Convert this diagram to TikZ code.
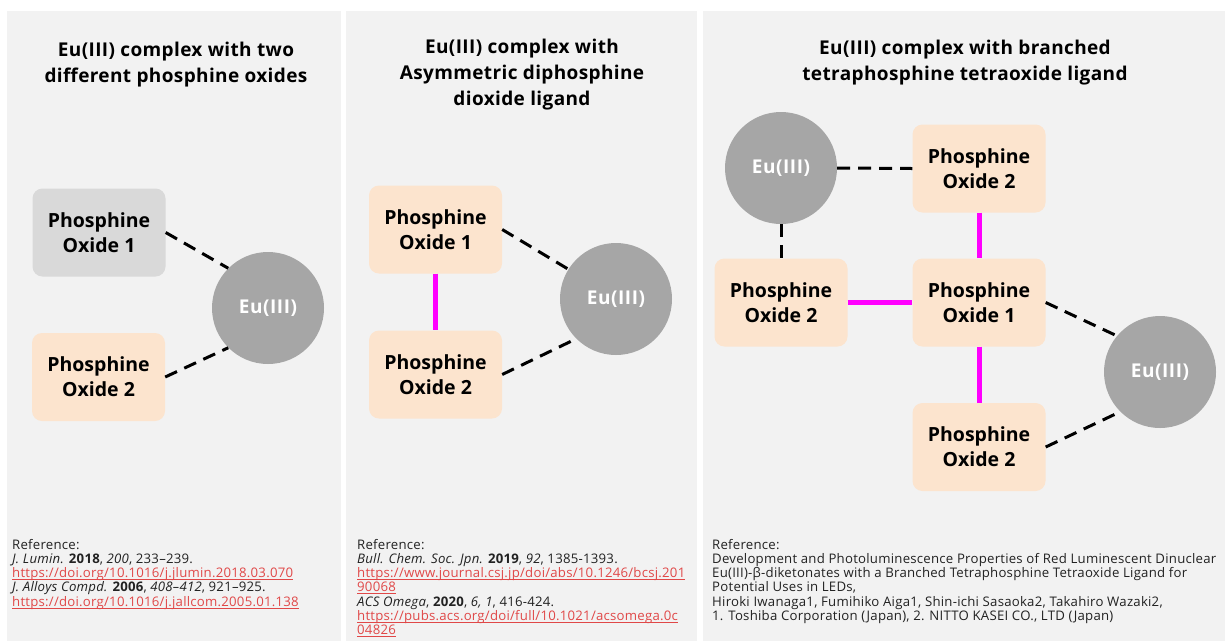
\documentclass[tikz,border=0pt]{standalone}
\usepackage{fontspec}
\setmainfont{Open Sans}
\definecolor{panel}{HTML}{F2F2F2}
\definecolor{peach}{HTML}{FCE4CE}
\definecolor{boxgray}{HTML}{D9D9D9}
\definecolor{eugray}{HTML}{A6A6A6}
\definecolor{linkred}{HTML}{E04848}
\definecolor{magline}{HTML}{FF00FF}
\definecolor{reftxt}{HTML}{222222}
\newcommand{\lnk}[1]{\textcolor{linkred}{\setbox0\hbox{#1}\rlap{\raisebox{-2.2pt}{\rule{\wd0}{0.7pt}}}\box0}}
\begin{document}
\begin{tikzpicture}[x=1pt,y=-1pt,
  titletext/.style={align=center, inner sep=0pt,
     font=\fontsize{19}{26}\selectfont\bfseries\addfontfeature{LetterSpace=2}},
  pobox/.style={rounded corners=10pt, minimum width=133pt, minimum height=88pt, align=center,
     font=\fontsize{19.5}{25}\selectfont\bfseries, inner sep=0pt, fill=peach},
  grayb/.style={pobox, fill=boxgray},
  eunode/.style={circle, fill=eugray, minimum size=112pt, text=white, inner sep=0pt,
     font=\fontsize{19}{20}\selectfont\bfseries\addfontfeature{LetterSpace=3}},
  dsh/.style={line width=3pt, dash pattern=on 13pt off 8pt},
  mag/.style={line width=5pt, draw=magline},
  reftext/.style={anchor=north west, align=left, inner sep=0pt, text=reftxt,
     font=\fontsize{13.2}{14.2}\selectfont\addfontfeature{LetterSpace=1.8}}
]
\useasboundingbox (0,0) rectangle (1225,641);
\fill[white] (0,0) rectangle (1225,641);
\fill[panel] (7,11) rectangle (341,641);
\fill[panel] (346,11) rectangle (697,641);
\fill[panel] (703,11) rectangle (1225,641);

% ---- panel 1
\node[titletext] (t1) at (176,65) {Eu(III) complex with two\\different phosphine oxides};
\node[grayb] (a1) at (99,232.5) {Phosphine\\Oxide 1};
\node[pobox] (a2) at (98.5,377) {Phosphine\\Oxide 2};
\node[eunode] (ae) at (268,308) {Eu(III)};
\draw[dsh] (a1.east) -- (ae.135);
\draw[dsh] (a2.east) -- (ae.225);
\node[reftext] (r1) at (12,539) {Reference:\\
\textit{J. Lumin.} \textbf{2018}, \textit{200}, 233–239.\\
\lnk{https://doi.org/10.1016/j.jlumin.2018.03.070}\\
\textit{J. Alloys Compd.} \textbf{2006}, \textit{408–412}, 921–925.\\
\lnk{https://doi.org/10.1016/j.jallcom.2005.01.138}};

% ---- panel 2
\node[titletext] (t2) at (522,75) {Eu(III) complex with\\Asymmetric diphosphine\\dioxide ligand};
\node[pobox] (b1) at (435.5,229.5) {Phosphine\\Oxide 1};
\node[pobox] (b2) at (435.5,374.5) {Phosphine\\Oxide 2};
\node[eunode] (be) at (616,299) {Eu(III)};
\draw[mag] (b1.south) -- (b2.north);
\draw[dsh] (b1.east) -- (be.148);
\draw[dsh] (b2.east) -- (be.225);
\node[reftext] (r2) at (357,539) {Reference:\\
\textit{Bull. Chem. Soc. Jpn.} \textbf{2019}, \textit{92}, 1385-1393.\\
\lnk{https://www.journal.csj.jp/doi/abs/10.1246/bcsj.201}\\
\lnk{90068}\\
\textit{ACS Omega}, \textbf{2020}, \textit{6, 1}, 416-424.\\
\lnk{https://pubs.acs.org/doi/full/10.1021/acsomega.0c}\\
\lnk{04826}};

% ---- panel 3
\node[titletext] (t3) at (965,63) {Eu(III) complex with branched\\tetraphosphine tetraoxide ligand};
\node[eunode] (ce1) at (781,168) {Eu(III)};
\node[pobox] (ctop) at (979,168.5) {Phosphine\\Oxide 2};
\node[pobox] (cleft) at (781,302.5) {Phosphine\\Oxide 2};
\node[pobox] (cmid) at (979,302.5) {Phosphine\\Oxide 1};
\node[pobox] (cbot) at (979,447) {Phosphine\\Oxide 2};
\node[eunode] (ce2) at (1160,372) {Eu(III)};
\draw[dsh] (ce1.east) -- (ctop.west);
\draw[dsh] (ce1.south) -- (cleft.north);
\draw[mag] (ctop.south) -- (cmid.north);
\draw[mag] (cleft.east) -- (cmid.west);
\draw[mag] (cmid.south) -- (cbot.north);
\draw[dsh] (cmid.east) -- (ce2.140);
\draw[dsh] (cbot.east) -- (ce2.225);
\node[reftext] (r3) at (712,539) {Reference:\\
Development and Photoluminescence Properties of Red Luminescent Dinuclear\\
Eu(III)-β-diketonates with a Branched Tetraphosphine Tetraoxide Ligand for\\
Potential Uses in LEDs,\\
Hiroki Iwanaga1, Fumihiko Aiga1, Shin-ichi Sasaoka2, Takahiro Wazaki2,\\
1. Toshiba Corporation (Japan), 2. NITTO KASEI CO., LTD (Japan)};
\end{tikzpicture}
\end{document}
